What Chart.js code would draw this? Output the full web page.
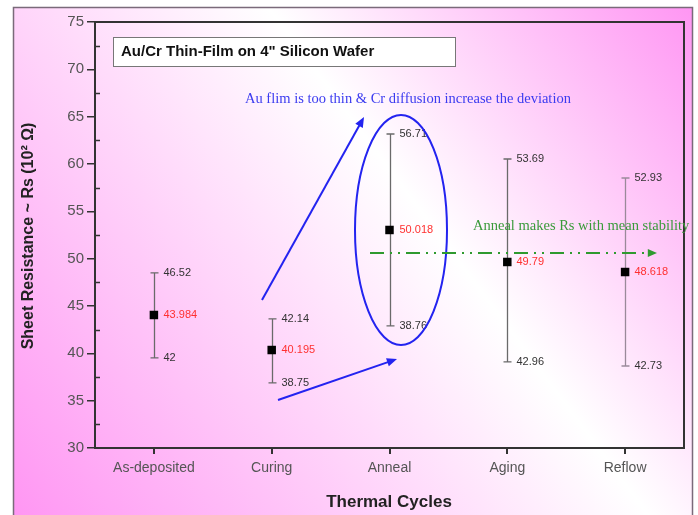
<!DOCTYPE html>
<html>
<head>
<meta charset="utf-8">
<script src="https://cdn.jsdelivr.net/npm/chart.js@4/dist/chart.umd.min.js"></script>
<style>
  html, body { margin: 0; padding: 0; background: #fff; }
  #wrap { width: 698px; height: 515px; position: relative; }
</style>
</head>
<body>
<div id="wrap"><canvas id="chart" width="698" height="515"></canvas></div>
<script>
// valori
const categories = ["As-deposited", "Curing", "Anneal", "Aging", "Reflow"];
const meanValues = [44.05, 40.35, 53.03, 49.65, 48.59];
const upperValues = [48.49, 43.63, 63.17, 60.53, 58.52];
const lowerValues = [39.51, 36.87, 42.89, 39.09, 38.66];
const meanLabels = ["43.984", "40.195", "50.018", "49.79", "48.618"];
const upperLabels = ["46.52", "42.14", "56.71", "53.69", "52.93"];
const lowerLabels = ["42", "38.75", "38.76", "42.96", "42.73"];
const yMin = 30, yMax = 75, yStep = 5;
const stabilityLevel = 50.6;

const FONT = "Liberation Sans, Arial, sans-serif";
const SERIF = "Liberation Serif, Times New Roman, serif";

function arrow(ctx, x1, y1, x2, y2, color, size) {
    const a = Math.atan2(y2 - y1, x2 - x1);
    ctx.save();
    ctx.strokeStyle = color;
    ctx.fillStyle = color;
    ctx.beginPath();
    ctx.moveTo(x1, y1);
    ctx.lineTo(x2 - Math.cos(a) * size * 0.8, y2 - Math.sin(a) * size * 0.8);
    ctx.stroke();
    ctx.setLineDash([]);
    ctx.beginPath();
    ctx.moveTo(x2, y2);
    ctx.lineTo(x2 - size * Math.cos(a - 0.4), y2 - size * Math.sin(a - 0.4));
    ctx.lineTo(x2 - size * Math.cos(a + 0.4), y2 - size * Math.sin(a + 0.4));
    ctx.closePath();
    ctx.fill();
    ctx.restore();
}

// sfondo sfumato e cornice
const backgroundPlugin = {
    id: "sfondo",
    beforeDraw(chart) {
        const ctx = chart.ctx;
        ctx.save();
        ctx.fillStyle = "#fff";
        ctx.fillRect(0, 0, chart.width, chart.height);
        const g = ctx.createLinearGradient(13, 515, 692, 7);
        g.addColorStop(0, "#ff96f3");
        g.addColorStop(0.6, "#ffffff");
        g.addColorStop(1, "#ff96f3");
        ctx.fillStyle = g;
        ctx.fillRect(13, 7, 679, 520);
        ctx.strokeStyle = "#7a6a7a";
        ctx.lineWidth = 1.5;
        ctx.strokeRect(13.5, 7.5, 679, 520);
        ctx.restore();
    }
};

// barre d'errore, etichette e annotazioni
const overlayPlugin = {
    id: "overlay",
    beforeDatasetsDraw(chart) {
        const ctx = chart.ctx;
        const x = chart.scales.x, y = chart.scales.y;
        const area = chart.chartArea;
        ctx.save();
        // cornice dell'area grafico
        ctx.strokeStyle = "#333";
        ctx.lineWidth = 2;
        ctx.beginPath();
        ctx.moveTo(area.left, area.top);
        ctx.lineTo(area.right, area.top);
        ctx.lineTo(area.right, area.bottom);
        ctx.stroke();
        // tacche minori interne
        ctx.lineWidth = 1.5;
        for (let v = yMin + yStep / 2; v < yMax; v += yStep) {
            const py = Math.round(y.getPixelForValue(v)) + 0.5;
            ctx.beginPath();
            ctx.moveTo(area.left, py);
            ctx.lineTo(area.left + 5, py);
            ctx.stroke();
        }
        // barre d'errore
        categories.forEach(function (c, i) {
            const px = Math.round(x.getPixelForValue(i)) + 0.5;
            const top = y.getPixelForValue(upperValues[i]);
            const bot = y.getPixelForValue(lowerValues[i]);
            ctx.strokeStyle = i === 4 ? "#9a8a9a" : "#6a6a6a";
            ctx.lineWidth = 1.3;
            ctx.beginPath();
            ctx.moveTo(px, top); ctx.lineTo(px, bot);
            ctx.moveTo(px - 4, top); ctx.lineTo(px + 4, top);
            ctx.moveTo(px - 4, bot); ctx.lineTo(px + 4, bot);
            ctx.stroke();
            ctx.font = "11px " + FONT;
            ctx.textBaseline = "middle";
            ctx.textAlign = "left";
            ctx.fillStyle = "#333";
            ctx.fillText(upperLabels[i], px + 9, top);
            ctx.fillText(lowerLabels[i], px + 9, bot);
            ctx.fillStyle = "#ff3030";
            ctx.fillText(meanLabels[i], px + 9, y.getPixelForValue(meanValues[i]));
        });
        ctx.restore();
    },
    afterDraw(chart) {
        const ctx = chart.ctx;
        const y = chart.scales.y;
        ctx.save();
        // riquadro del titolo
        ctx.fillStyle = "#fff";
        ctx.fillRect(113, 37, 342, 29);
        ctx.strokeStyle = "#777";
        ctx.lineWidth = 1;
        ctx.strokeRect(113.5, 37.5, 342, 29);
        ctx.fillStyle = "#111";
        ctx.font = "bold 15px " + FONT;
        ctx.textAlign = "left";
        ctx.textBaseline = "middle";
        ctx.fillText("Au/Cr Thin-Film on 4\" Silicon Wafer", 121, 52);

        // titoli degli assi
        ctx.fillStyle = "#222";
        ctx.font = "bold 17px " + FONT;
        ctx.textAlign = "center";
        ctx.fillText("Thermal Cycles", 389, 502);
        ctx.save();
        ctx.translate(29, 236);
        ctx.rotate(-Math.PI / 2);
        ctx.font = "bold 16px " + FONT;
        ctx.fillText("Sheet Resistance ~ Rs (10\u00B2 \u03A9)", 0, 0);
        ctx.restore();

        // annotazioni blu
        ctx.fillStyle = "#3b3bf0";
        ctx.font = "14.5px " + SERIF;
        ctx.textAlign = "left";
        ctx.fillText("Au flim is too thin & Cr diffusion increase the deviation", 245, 99);
        ctx.strokeStyle = "#2323f0";
        ctx.lineWidth = 2;
        arrow(ctx, 262, 300, 364, 117, "#2323f0", 11);
        arrow(ctx, 278, 400, 397, 359, "#2323f0", 11);
        ctx.beginPath();
        ctx.ellipse(401, 230, 46, 115, 0, 0, Math.PI * 2);
        ctx.stroke();

        // annotazione verde
        const gy = y.getPixelForValue(stabilityLevel);
        ctx.strokeStyle = "#2f9a2f";
        ctx.lineWidth = 2;
        ctx.setLineDash([14, 6, 2, 6, 2, 6]);
        arrow(ctx, 370, gy, 657, gy, "#2f9a2f", 10);
        ctx.setLineDash([]);
        ctx.fillStyle = "#3a9a3a";
        ctx.font = "14.5px " + SERIF;
        ctx.fillText("Anneal makes Rs with mean stability", 473, 226);
        ctx.restore();
    }
};

new Chart(document.getElementById("chart"), {
    type: "line",
    data: {
        labels: categories,
        datasets: [{
            data: meanValues,
            showLine: false,
            pointStyle: "rect",
            pointRadius: 6,
            pointBackgroundColor: "#000",
            pointBorderColor: "#000",
            pointBorderWidth: 0
        }]
    },
    options: {
        responsive: false,
        animation: false,
        layout: { padding: { left: 0, top: 22, right: 14, bottom: 0 } },
        plugins: { legend: { display: false }, tooltip: { enabled: false } },
        scales: {
            x: {
                type: "category",
                offset: true,
                grid: { offset: false, drawOnChartArea: false, color: "#333", tickLength: 6, lineWidth: 2 },
                border: { display: true, color: "#333", width: 2 },
                ticks: { color: "#555", font: { family: FONT, size: 14 }, padding: 6, maxRotation: 0 },
                afterFit: function (s) { s.height = 67; }
            },
            y: {
                min: yMin,
                max: yMax,
                grid: { drawOnChartArea: false, color: "#333", tickLength: 8, lineWidth: 1.5 },
                border: { display: true, color: "#333", width: 2 },
                ticks: { stepSize: yStep, color: "#555", font: { family: FONT, size: 15 }, padding: 3 },
                afterFit: function (s) { s.width = 95; }
            }
        }
    },
    plugins: [backgroundPlugin, overlayPlugin]
});
</script>
</body>
</html>
